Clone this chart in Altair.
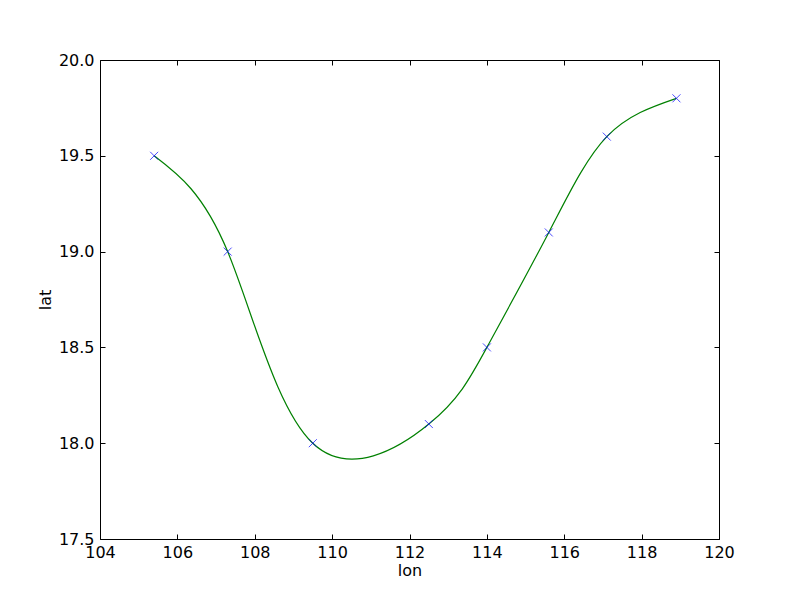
import altair as alt
import pandas as pd

lon = [105.4, 107.3, 109.5, 112.5, 114.0, 115.6, 117.1, 118.9]
lat = [19.5, 19.0, 18.0, 18.1, 18.5, 19.1, 19.6, 19.8]
x_ticks = [104, 106, 108, 110, 112, 114, 116, 118, 120]
y_ticks = [17.5, 18.0, 18.5, 19.0, 19.5, 20.0]

df = pd.DataFrame({"lon": lon, "lat": lat})

W, H = 619, 479
FONT = "DejaVu Sans"
FS = 16

xs = alt.Scale(domain=[104, 120], nice=False, zero=False)
ys = alt.Scale(domain=[17.5, 20], nice=False, zero=False)

base = alt.Chart(df)

# Main layer: curve with labelled left/bottom axes
curve = base.mark_line(color="#008000", strokeWidth=1.2, interpolate="natural").encode(
    x=alt.X("lon:Q", scale=xs, axis=alt.Axis(
        orient="bottom", values=x_ticks, format="d", title="lon",
        tickSize=0, domain=False, grid=False, labelPadding=5, titlePadding=2,
        labelFlush=False, labelOverlap=False,
        labelFont=FONT, labelFontSize=FS, titleFont=FONT, titleFontSize=FS,
        titleFontWeight="normal", labelColor="black", titleColor="black")),
    y=alt.Y("lat:Q", scale=ys, axis=alt.Axis(
        orient="left", values=y_ticks, format=".1f", title="lat",
        tickSize=0, domain=False, grid=False, labelPadding=6, titlePadding=5,
        labelFlush=False, labelOverlap=False,
        labelFont=FONT, labelFontSize=FS, titleFont=FONT, titleFontSize=FS,
        titleFontWeight="normal", labelColor="black", titleColor="black")),
)

# Markers, with inward ticks on left and bottom edges
marks = base.mark_point(
    shape="M-1,-1L1,1M-1,1L1,-1", size=64, filled=False, color="#0000ff", strokeWidth=1
).encode(
    x=alt.X("lon:Q", scale=xs, axis=alt.Axis(
        orient="top", offset=-H, values=x_ticks, labels=False, title=None,
        domain=False, grid=False, tickSize=5, tickColor="black")),
    y=alt.Y("lat:Q", scale=ys, axis=alt.Axis(
        orient="right", offset=-W, values=y_ticks, labels=False, title=None,
        domain=False, grid=False, tickSize=5, tickColor="black")),
)

# Invisible layer for inward ticks on right and top edges
ticks2 = base.mark_point(opacity=0).encode(
    x=alt.X("lon:Q", scale=xs, axis=alt.Axis(
        orient="bottom", offset=-H, values=x_ticks, labels=False, title=None,
        domain=False, grid=False, tickSize=5, tickColor="black")),
    y=alt.Y("lat:Q", scale=ys, axis=alt.Axis(
        orient="left", offset=-W, values=y_ticks, labels=False, title=None,
        domain=False, grid=False, tickSize=5, tickColor="black")),
)

chart = alt.layer(curve, marks, ticks2).resolve_axis(
    x="independent", y="independent"
).properties(
    width=W, height=H,
    autosize=alt.AutoSizeParams(type="none"),
    padding={"left": 92, "top": 52, "right": 73, "bottom": 53},
).configure(
    background="white",
    view=alt.ViewConfig(stroke="black", strokeWidth=1),
)

chart.save("out.html", embed_options={"renderer": "svg", "actions": False})
